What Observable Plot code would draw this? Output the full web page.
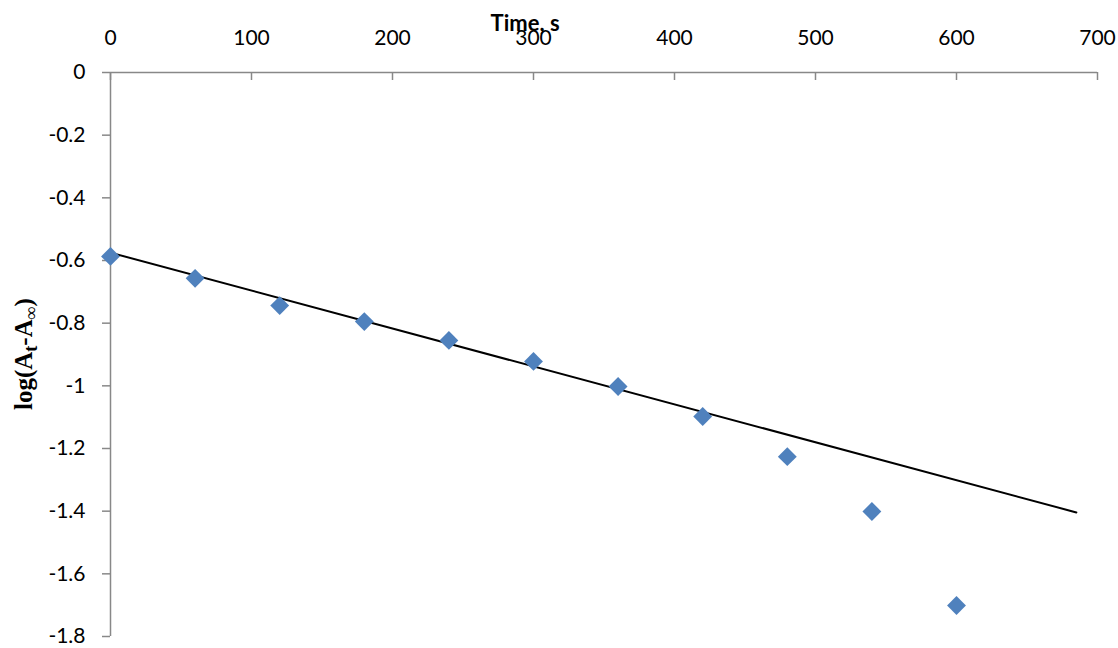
<!DOCTYPE html>
<html>
<head>
<meta charset="utf-8">
<script src="https://cdn.jsdelivr.net/npm/d3@7"></script>
<script src="https://cdn.jsdelivr.net/npm/@observablehq/plot@0.6"></script>
<style>
  html, body { margin: 0; padding: 0; background: #fff; }
  #chart svg { display: block; }
</style>
</head>
<body>
<div id="chart"></div>
<script>
// Data
const timeS = [0, 60, 120, 180, 240, 300, 360, 420, 480, 540, 600];
const logA = [-0.587, -0.657, -0.744, -0.795, -0.855, -0.922, -1.002, -1.098, -1.226, -1.401, -1.701];
// Linear trend line end points
const trendX = [0, 685];
const trendY = [-0.575, -1.404];
// Ticks
const xTicks = [0, 100, 200, 300, 400, 500, 600, 700];
const yTicks = [0, -0.2, -0.4, -0.6, -0.8, -1, -1.2, -1.4, -1.6, -1.8];
const yTickLabels = ["0", "-0.2", "-0.4", "-0.6", "-0.8", "-1", "-1.2", "-1.4", "-1.6", "-1.8"];
const xTitle = "Time, s";
const xTitlePos = [294];

const points = timeS.map((t, i) => ({t, v: logA[i]}));
const trend = trendX.map((t, i) => ({t, v: trendY[i]}));

const axisColor = "#888888";
const font = "Lato, 'Open Sans', sans-serif";

const chart = Plot.plot({
  width: 1118,
  height: 648,
  marginLeft: 110,
  marginRight: 21,
  marginTop: 72,
  marginBottom: 12,
  style: {fontFamily: font, fontSize: "21px", color: "#000", background: "#fff"},
  x: {domain: [0, 700]},
  y: {domain: [-1.8, 0]},
  marks: [
    Plot.ruleY([0], {stroke: axisColor, strokeWidth: 1.5}),
    Plot.ruleX([0], {stroke: axisColor, strokeWidth: 1.5}),
    Plot.ruleX(xTicks, {x: d => d, insetBottom: 556, stroke: axisColor, strokeWidth: 1.5}),
    Plot.axisX({anchor: "top", ticks: xTicks, tickSize: 0, tickPadding: 28, tickFormat: d => String(d), label: null, fill: "#000", fontSize: 21}),
    Plot.axisY({anchor: "left", ticks: yTicks, tickSize: 8, tickPadding: 17, tickFormat: d => yTickLabels[yTicks.indexOf(d)] ?? String(d), label: null, stroke: axisColor, fill: "#000", fontSize: 21, strokeWidth: 1.5}),
    Plot.line(trend, {x: "t", y: "v", stroke: "#000", strokeWidth: 2}),
    Plot.dot(points, {x: "t", y: "v", symbol: "diamond2", r: 8.5, fill: "#4f81bd", stroke: null}),
    Plot.text(xTitlePos, {x: d => d, y: [0], dy: -42, text: () => xTitle, fontWeight: "bold", fontSize: 22, fill: "#000", textAnchor: "middle", lineAnchor: "bottom"})
  ]
});

document.getElementById("chart").appendChild(chart);

// Y axis label with subscripts
const svg = d3.select(chart);
const lbl = svg.append("text")
  .attr("transform", "translate(32,354) rotate(-90)")
  .attr("text-anchor", "middle")
  .attr("font-family", "'Liberation Serif', 'Times New Roman', serif")
  .attr("font-weight", "bold")
  .attr("font-size", 25)
  .attr("fill", "#000");
lbl.append("tspan").text("log(A");
lbl.append("tspan").attr("baseline-shift", "-25%").attr("font-size", 18).text("t");
lbl.append("tspan").text("-A");
lbl.append("tspan").attr("baseline-shift", "-25%").attr("font-size", 18).text("∞");
lbl.append("tspan").text(")");
</script>
</body>
</html>
